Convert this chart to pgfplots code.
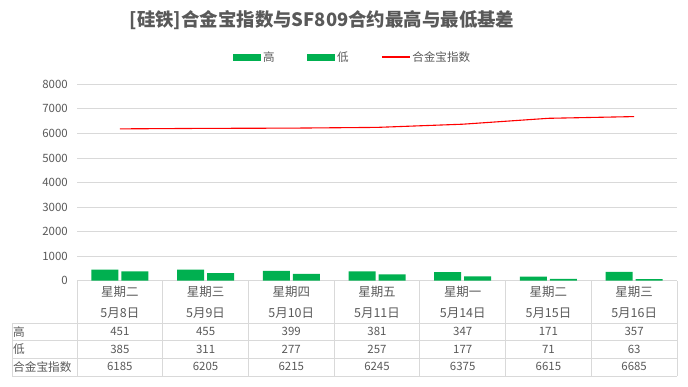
\documentclass[border=0pt]{standalone}
\usepackage{pgfplots}
\pgfplotsset{compat=1.18}
\usepackage{pgfplotstable}
\usepackage{fontspec}
\setmainfont{Noto Sans CJK SC}
\definecolor{bargreen}{HTML}{00B050}
\definecolor{txt}{HTML}{595959}
\definecolor{gridc}{HTML}{D9D9D9}

\pgfplotstableread{
x hi lo idx
1 451 385 6185
2 455 311 6205
3 399 277 6215
4 381 257 6245
5 347 177 6375
6 171 71 6615
7 357 63 6685
}\data

\begin{document}
\begin{tikzpicture}
\useasboundingbox (0,0) rectangle (688bp,-387bp);
\begin{axis}[
  at={(77bp,-280.7bp)}, anchor=south west,
  scale only axis, width=600bp, height=196.4bp,
  xmin=0.5, xmax=7.5, ymin=0, ymax=8000,
  xtick=\empty, ytick={0,1000,...,8000},
  ymajorgrids, major grid style={gridc, line width=0.8bp},
  axis line style={draw=none}, tick style={draw=none},
  scaled y ticks=false,
  /pgf/number format/set thousands separator={},
  /pgf/number format/assume math mode=true,
  yticklabel style={font=\fontsize{11.5}{12}\selectfont, text=txt, anchor=east, inner sep=0pt, xshift=-9bp},
  clip=false,
  legend columns=3,
  legend style={draw=none, fill=none, inner sep=0pt, at={(0.26,1.139)}, anchor=west,
    font=\fontsize{11.6}{12}\selectfont, text=txt,
    /tikz/every even column/.append style={column sep=30.5bp}},
]
\addplot[ybar, bar width=27bp, bar shift=-15bp, fill=bargreen, draw=none,
  legend image code/.code={\fill[bargreen] (0bp,-3.5bp) rectangle (28bp,3.5bp);}]
  table[x=x,y=hi]{\data};
\addlegendentry{高}
\addplot[ybar, bar width=27bp, bar shift=15bp, fill=bargreen, draw=none,
  legend image code/.code={\fill[bargreen] (0bp,-3.5bp) rectangle (28bp,3.5bp);}]
  table[x=x,y=lo]{\data};
\addlegendentry{低}
\addplot[red, line width=1.1bp, mark=none,
  legend image code/.code={\draw[red, line width=1.1bp] (0bp,0bp) -- (28bp,0bp);}]
  table[x=x,y=idx]{\data};
\addlegendentry{合金宝指数}
\end{axis}

\node[font=\fontsize{18.5}{20}\selectfont\bfseries, text=txt] at (322bp,-20bp) {[硅铁]合金宝指数与SF809合约最高与最低基差};

\begin{scope}[x=1bp,y=-1bp]
  \foreach \yy in {323,340,358,376} \draw[gridc, line width=0.8bp] (12,\yy) -- (677,\yy);
  \foreach \k in {0,...,7} \draw[gridc, line width=0.8bp] ({77+\k*85.714},281) -- ({77+\k*85.714},376);
  \draw[gridc, line width=0.8bp] (12,323) -- (12,376);
  \node[anchor=west, inner sep=0pt, font=\fontsize{11.7}{12}\selectfont, text=txt] at (13,331.7) {高};
  \node[anchor=west, inner sep=0pt, font=\fontsize{11.7}{12}\selectfont, text=txt] at (13,349) {低};
  \node[anchor=west, inner sep=0pt, font=\fontsize{11.7}{12}\selectfont, text=txt] at (13,366.7) {合金宝指数};
  \foreach \i/\d/\dt in {0/星期二/5月8日, 1/星期三/5月9日, 2/星期四/5月10日, 3/星期五/5月11日, 4/星期一/5月14日, 5/星期二/5月15日, 6/星期三/5月16日} {
    \pgfmathsetmacro\cx{77+(\i+0.5)*85.714}
    \node[inner sep=0pt, font=\fontsize{12.5}{13}\selectfont, text=txt] at (\cx,291.7) {\d};
    \node[inner sep=0pt, font=\fontsize{12.5}{13}\selectfont, text=txt] at (\cx,313.3) {\dt};
    \pgfplotstablegetelem{\i}{hi}\of\data
    \node[inner sep=0pt, font=\fontsize{11.5}{12}\selectfont, text=txt] at (\cx,331.7) {\pgfplotsretval};
    \pgfplotstablegetelem{\i}{lo}\of\data
    \node[inner sep=0pt, font=\fontsize{11.5}{12}\selectfont, text=txt] at (\cx,349) {\pgfplotsretval};
    \pgfplotstablegetelem{\i}{idx}\of\data
    \node[inner sep=0pt, font=\fontsize{11.5}{12}\selectfont, text=txt] at (\cx,366.7) {\pgfplotsretval};
  }
\end{scope}
\end{tikzpicture}
\end{document}
